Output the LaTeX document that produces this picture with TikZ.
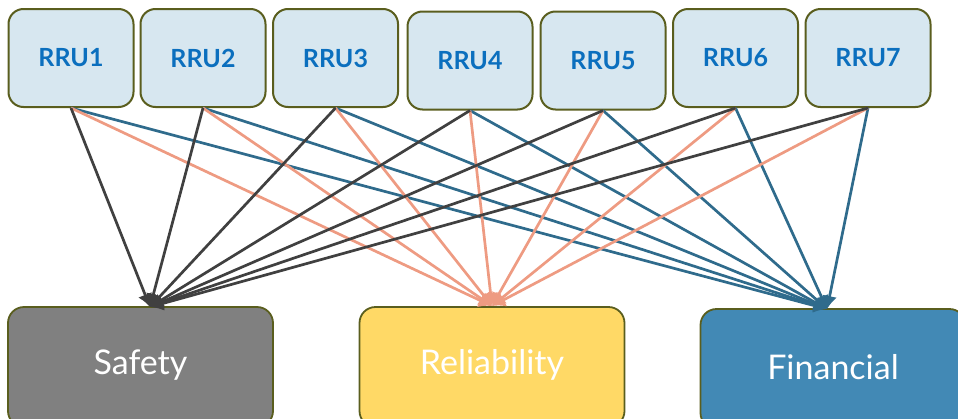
\documentclass[tikz,border=0pt]{standalone}
\usepackage{fontspec}
\setmainfont{Lato}
\usetikzlibrary{arrows.meta}

\definecolor{rrufill}{HTML}{D7E7F0}
\definecolor{rrutext}{HTML}{0B6FBE}
\definecolor{frame}{HTML}{5A5E1E}
\definecolor{safefill}{HTML}{808080}
\definecolor{relfill}{HTML}{FFD966}
\definecolor{finfill}{HTML}{4289B5}
\definecolor{safeline}{HTML}{404040}
\definecolor{relline}{HTML}{EE9B82}
\definecolor{finline}{HTML}{2F6B8C}

\tikzset{
  rru/.style={draw=frame, line width=2pt, fill=rrufill, rounded corners=15pt,
    minimum width=125pt, minimum height=98pt, inner sep=0pt,
    font=\fontsize{25}{25}\selectfont\bfseries, text=rrutext},
  goal/.style={draw=frame, line width=1.8pt, rounded corners=16pt,
    minimum width=265pt, minimum height=120pt, inner sep=0pt},
  goaltext/.style={font=\fontsize{34}{34}\selectfont, text=white},
  link/.style={line width=2.7pt, -{Latex[length=13pt,width=15pt]}},
  toSafety/.style={link, draw=safeline},
  toRel/.style={link, draw=relline},
  toFin/.style={link, draw=finline},
}

\begin{document}
\begin{tikzpicture}[x=1pt, y=-1pt]
  \useasboundingbox (0,0) rectangle (958,418);

  % objective boxes (running off the lower edge)
  \node[goal, fill=safefill] (safety) at (140.5,367) {};
  \node[goal, fill=relfill]  (rel)    at (492,367)   {};
  \node[goal, fill=finfill]  (fin)    at (833,369)   {};
  \node[goaltext] (safetyT) at (140.5,365) {Safety};
  \node[goaltext] (relT)    at (492,365)   {Reliability};
  \node[goaltext] (finT)    at (833,367)   {Financial};

  % where the connectors land on each box
  \coordinate (sIn) at (150,307);
  \coordinate (rIn) at (492,306);
  \coordinate (fIn) at (827,309);

  % RRU boxes
  \node[rru] (r1) at (71,58)    {RRU1};
  \node[rru] (r2) at (203,58)   {RRU2};
  \node[rru] (r3) at (335.5,58) {RRU3};
  \node[rru] (r4) at (470,60.5) {RRU4};
  \node[rru] (r5) at (603,60.5) {RRU5};
  \node[rru] (r6) at (735.5,58) {RRU6};
  \node[rru] (r7) at (868,58)   {RRU7};

  % every RRU feeds every objective
  \foreach \r in {r1,r2,r3,r4,r5,r6,r7}{
    \draw[toFin]    (\r.south) -- (fIn);
  }
  \foreach \r in {r1,r2,r3,r4,r5,r6,r7}{
    \draw[toRel]    (\r.south) -- (rIn);
  }
  \foreach \r in {r1,r2,r3,r4,r5,r6,r7}{
    \draw[toSafety] (\r.south) -- (sIn);
  }
\end{tikzpicture}
\end{document}
